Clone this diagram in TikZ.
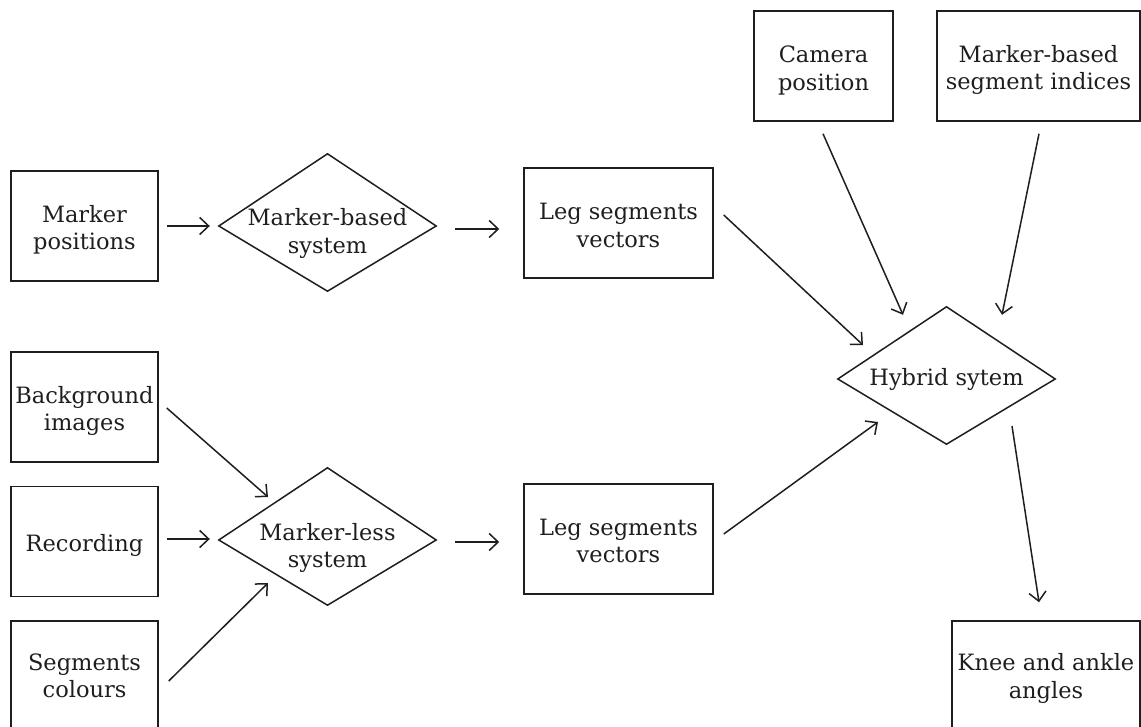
\documentclass[tikz,border=0pt]{standalone}
\usepackage{fontspec}
\setmainfont{DejaVu Serif}
\usetikzlibrary{arrows.meta,calc}
\definecolor{ink}{HTML}{1E1E1E}
\begin{document}
\begin{tikzpicture}[x=1pt,y=-1pt,
  every node/.style={font=\fontsize{22.5}{27.5}\selectfont, text=ink},
  every label/.style={align=center, inner sep=0pt},
  box/.style={draw=ink, line width=1.5pt, rectangle, inner sep=0pt, minimum height=110pt},
  dia/.style={rectangle, inner sep=0pt, minimum width=217pt, minimum height=137pt},
  edge/.style={draw=ink, line width=1.5pt, line join=miter},
  arr/.style={draw=ink, line width=1.5pt, -{Straight Barb[length=9pt,width=17pt]}}]
\useasboundingbox (0,0) rectangle (1141,727);
% boxes
\node[box, minimum width=147pt, label={[yshift=-4pt]center:Marker\\positions}] (mp) at (84.5,226) {};
\node[box, minimum width=147pt, label={[yshift=-4pt]center:Background\\images}] (bg) at (84.5,407) {};
\node[box, minimum width=147pt, label={[yshift=-3.5pt]center:Recording}] (rec) at (84.5,541.5) {};
\node[box, minimum width=147pt, label={[yshift=0pt]center:Segments\\colours}] (sc) at (84.5,676) {};
\node[box, minimum width=189pt, label={[yshift=-2.5pt]center:Leg segments\\vectors}] (leg1) at (618.5,223) {};
\node[box, minimum width=189pt, label={[yshift=-2pt]center:Leg segments\\vectors}] (leg2) at (618.5,539) {};
\node[box, minimum width=139pt, label={[yshift=-4.5pt]center:Camera\\position}] (cam) at (823.5,66) {};
\node[box, minimum width=203pt, label={[yshift=-4pt]center:Marker-based\\segment indices}] (mbi) at (1038.5,66) {};
\node[box, minimum width=188pt, label={[yshift=-2.5pt]center:Knee and ankle\\angles}] (knee) at (1046,676) {};
% diamonds (tips sit 3.5 below the centre, as drawn)
\node[dia, label={[yshift=-11pt]center:Marker-based\\system}] (mbs) at (327.5,222.5) {};
\node[dia, label={[yshift=-11.5pt]center:Marker-less\\system}] (mls) at (327.5,536.5) {};
\node[dia, label={[yshift=-4pt]center:Hybrid sytem}] (hyb) at (946.5,375.5) {};
\foreach \d in {mbs,mls,hyb}
  \draw[edge] (\d.north) -- ($(\d.east)+(0,3.5)$) -- (\d.south) -- ($(\d.west)+(0,3.5)$) -- cycle;
% arrows
\draw[arr] ($(mp.east)+(8,0)$) -- ($(mbs.west)+(-9,3.5)$);
\draw[arr] ($(mbs.east)+(19,6.5)$) -- ($(leg1.west)+(-24,6)$);
\draw[arr] ($(bg.east)+(8,1)$) -- ($(mls.center)+(-59.5,-39.5)$);
\draw[arr] ($(rec.east)+(8,-2.5)$) -- ($(mls.west)+(-9,2.5)$);
\draw[arr] ($(sc.east)+(10,5)$) -- ($(mls.center)+(-59.5,46.5)$);
\draw[arr] ($(mls.east)+(19,5.5)$) -- ($(leg2.west)+(-24,3)$);
\draw[arr] ($(leg1.east)+(10,-8)$) -- ($(hyb.center)+(-83.5,-30.5)$);
\draw[arr] ($(leg2.east)+(10,-5)$) -- ($(hyb.center)+(-68.5,46.5)$);
\draw[arr] ($(cam.south)+(-0.5,12)$) -- ($(hyb.north)+(-43.5,8)$);
\draw[arr] ($(mbi.south)+(0.5,12)$) -- ($(hyb.north)+(55.5,8)$);
\draw[arr] ($(hyb.center)+(65.5,50.5)$) -- ($(knee.north)+(-7,-18)$);
\end{tikzpicture}
\end{document}
